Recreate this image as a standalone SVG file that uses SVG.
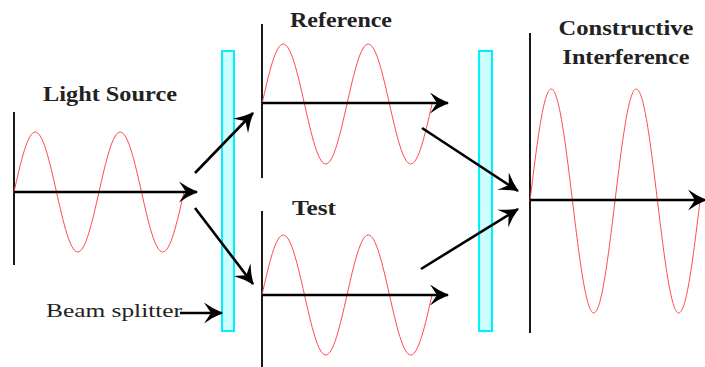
<svg xmlns="http://www.w3.org/2000/svg" width="705" height="367" viewBox="0 0 705 367">
<defs>
<style>
.axis{stroke:#1a1a1a;stroke-width:2;fill:none}
.wave{stroke:#ff4a4a;stroke-width:1;fill:none}
.arr{stroke:#000;stroke-width:2.6;fill:none;marker-end:url(#ah)}
.bs{fill:#ccffff;stroke:#00f0ff;stroke-width:2}
.lbl{font-family:"Liberation Serif","Times New Roman",serif;font-weight:bold;font-size:20px;fill:#222;text-anchor:middle}
.reg{font-family:"Liberation Serif","Times New Roman",serif;font-size:18px;fill:#222}
</style>
<marker id="ah" markerUnits="userSpaceOnUse" viewBox="0 0 19 22" markerWidth="19" markerHeight="22" refX="18" refY="11" orient="auto">
<path d="M0,0.5 Q9,7 19,11 Q9,15 0,21.5 L7,11 Z" fill="#000"/>
</marker>
</defs>
<rect width="705" height="367" fill="#fff"/>

<g id="beam-splitter-1"><rect class="bs" x="222" y="51" width="12" height="280"/></g>
<g id="beam-splitter-2"><rect class="bs" x="479" y="51" width="13" height="280"/></g>

<g id="light-source">
<text class="lbl" x="110" y="101" textLength="134" lengthAdjust="spacingAndGlyphs">Light Source</text>
<line class="axis" x1="14" y1="112" x2="14" y2="265"/>
<path class="wave" d="M14,192 c 6.93,-30.74 13.56,-60 21.25,-60 s 14.32,29.26 21.25,60 s 13.56,60 21.25,60 s 14.32,-29.26 21.25,-60 s 13.56,-60 21.25,-60 s 14.32,29.26 21.25,60 s 13.56,60 21.25,60 s 14.32,-29.26 21.25,-60"/>
</g>

<g id="reference">
<text class="lbl" x="341" y="27" textLength="102" lengthAdjust="spacingAndGlyphs">Reference</text>
<line class="axis" x1="262" y1="24" x2="262" y2="178"/>
<path class="wave" d="M262,104 c 6.93,-30.74 13.56,-60 21.25,-60 s 14.32,29.26 21.25,60 s 13.56,60 21.25,60 s 14.32,-29.26 21.25,-60 s 13.56,-60 21.25,-60 s 14.32,29.26 21.25,60 s 13.56,60 21.25,60 s 14.32,-29.26 21.25,-60"/>
</g>

<g id="test">
<text class="lbl" x="314" y="215" textLength="44" lengthAdjust="spacingAndGlyphs">Test</text>
<line class="axis" x1="262" y1="211" x2="262" y2="367"/>
<path class="wave" d="M262,295 c 6.93,-30.74 13.56,-60 21.25,-60 s 14.32,29.26 21.25,60 s 13.56,60 21.25,60 s 14.32,-29.26 21.25,-60 s 13.56,-60 21.25,-60 s 14.32,29.26 21.25,60 s 13.56,60 21.25,60 s 14.32,-29.26 21.25,-60"/>
</g>

<g id="constructive-interference">
<text class="lbl" x="626" y="35" textLength="135" lengthAdjust="spacingAndGlyphs">Constructive</text>
<text class="lbl" x="626" y="64" textLength="127" lengthAdjust="spacingAndGlyphs">Interference</text>
<line class="axis" x1="530" y1="33" x2="530" y2="333"/>
<path class="wave" d="M530,201 c 6.93,-57.38 13.56,-112 21.25,-112 s 14.32,54.62 21.25,112 s 13.56,112 21.25,112 s 14.32,-54.62 21.25,-112 s 13.56,-112 21.25,-112 s 14.32,54.62 21.25,112 s 13.56,112 21.25,112 s 14.32,-54.62 21.25,-112"/>
</g>

<g id="beam-splitter-label">
<text class="reg" x="46" y="317" textLength="136" lengthAdjust="spacingAndGlyphs">Beam splitter</text>
</g>

<g id="connectors">
<line class="arr" x1="14" y1="192" x2="197" y2="192"/>
<line class="arr" x1="262" y1="103" x2="448" y2="103"/>
<line class="arr" x1="262" y1="295" x2="448" y2="295"/>
<line class="arr" x1="530" y1="200" x2="706" y2="200"/>
<line class="arr" x1="195" y1="173" x2="253" y2="113"/>
<line class="arr" x1="195" y1="208" x2="253" y2="284"/>
<line class="arr" x1="422" y1="128" x2="518" y2="191"/>
<line class="arr" x1="421" y1="269" x2="518" y2="209"/>
<line class="arr" x1="180" y1="313" x2="222" y2="313"/>
</g>
</svg>
